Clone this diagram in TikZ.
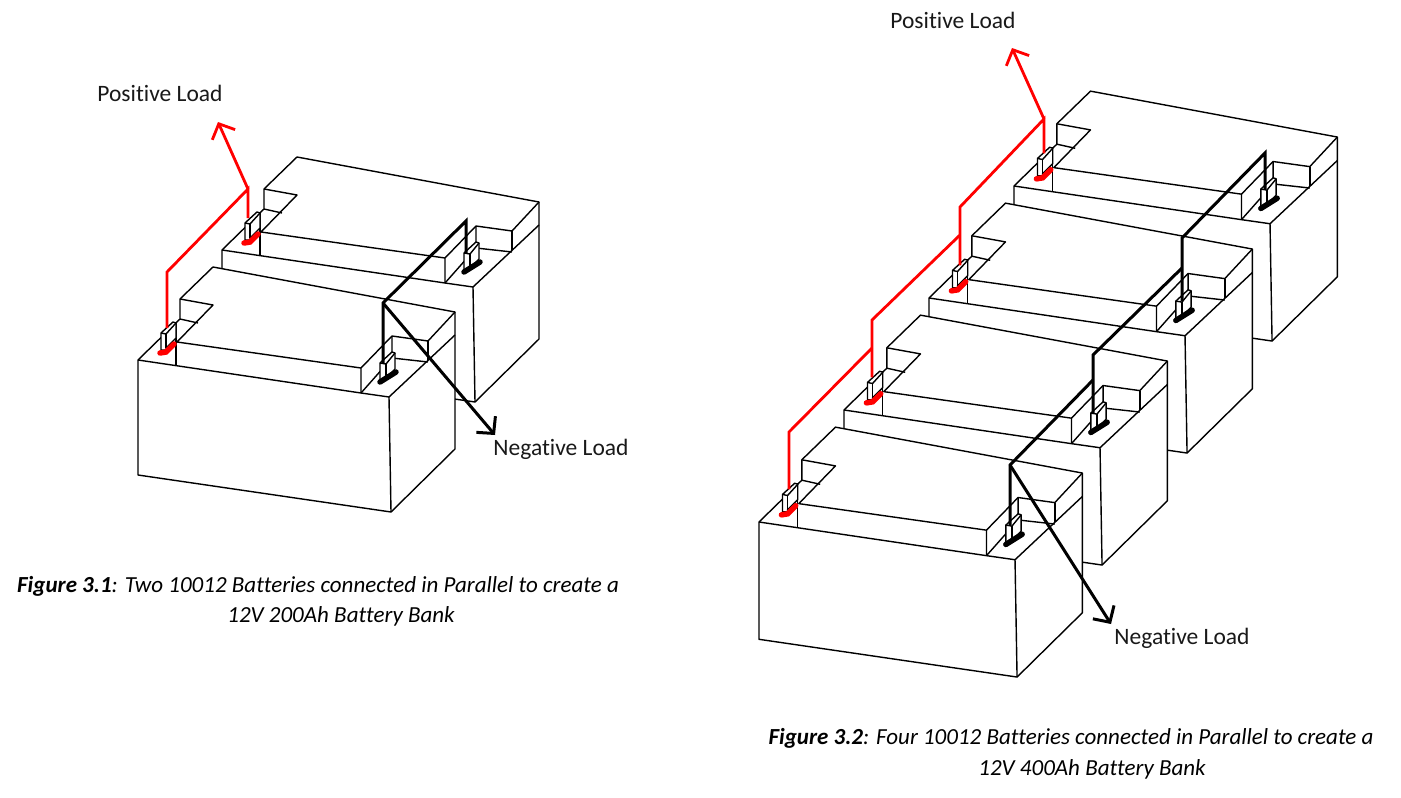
\documentclass[tikz,border=0pt]{standalone}
\usepackage{fontspec}
\setmainfont{Carlito}[Ligatures=NoCommon]
\usetikzlibrary{arrows.meta}
\tikzset{
  edge/.style={draw=black,line width=1.4pt,line join=round},
  wirered/.style={draw=red,line width=2.8pt,line join=miter},
  wireblack/.style={draw=black,line width=3pt,line join=miter},
  loadred/.style={wirered,-{Straight Barb[length=12pt,width=25pt]}},
  loadblack/.style={wireblack,-{Straight Barb[length=12pt,width=25pt]}},
  footred/.style={draw=red,line width=5.5pt,line cap=round},
  footblack/.style={draw=black,line width=5.5pt,line cap=round},
  label/.style={font=\fontsize{23.5}{26}\selectfont,text=black!90,inner sep=0pt,anchor=center},
  caption/.style={font=\fontsize{23}{26}\selectfont\itshape,text=black,inner sep=0pt,anchor=center}
}
\newcommand{\batt}[4]{%
\begin{scope}[shift={(#2,#3)},scale=#4,name prefix=#1-]
  \fill[white] (0,0) -- (0,115) -- (253,152) -- (317,89) -- (317,-48) -- (75,-93) -- (42,-61) -- (42,-41) -- cycle;
  \draw[edge] (0,0) -- (0,115) -- (253,152) -- (317,89) -- (317,-48) -- (75,-93) -- (42,-61) -- (42,-41) -- cycle;
  \draw[edge] (0,0) -- (223,33) -- (251,37) -- (253,152);
  \draw[edge] (251,37) -- (317,-25);
  \draw[edge] (42,-61) -- (75,-55) -- (39,-18) -- (223,8) -- (223,33);
  \draw[edge] (42,-41) -- (60,-37);
  \draw[edge] (223,8) -- (254,-24) -- (290,-19) -- (317,-48);
  \draw[edge] (290,-19) -- (290,0);
  \draw[edge] (254,-24) -- (254,-2) -- (290,2);
  \draw[edge] (223,33) -- (254,-2);
  \draw[edge] (38,-38) -- (38,6);
  % positive terminal
  \filldraw[edge,fill=white] (23,-10) -- (23,-27) -- (35,-38) -- (38,-37) -- (38,-22) -- (28,-12) -- (28,-10) -- cycle;
  \draw[edge] (23,-27) -- (28,-26) -- (38,-37);
  \draw[edge] (28,-26) -- (28,-12);
  \draw[footred] (22,-7) -- (28,-8) -- (36,-16);
  % negative terminal
  \filldraw[edge,fill=white] (242,20) -- (242,3) -- (254,-8) -- (257,-7) -- (257,9) -- (248,18) -- (248,20) -- cycle;
  \draw[edge] (242,3) -- (248,4) -- (257,-7);
  \draw[edge] (248,4) -- (248,18);
  \draw[footblack] (242,22) -- (258,12);
  \coordinate (p) at (29,-32);
  \coordinate (n) at (245,3);
\end{scope}}
\begin{document}
\begin{tikzpicture}[x=1pt,y=-1pt]
\useasboundingbox (0,0) rectangle (1401,798);
\fill[white] (0,0) rectangle (1401,798);

% Figure 3.1
\batt{a2}{222}{250}{1}
\batt{a1}{138}{360}{1}
\coordinate (aRj) at (248,189);
\coordinate (aRk) at (167,272);
\coordinate (aRtip) at (218,122);
\coordinate (aBj) at (466,221);
\coordinate (aBk) at (383,303);
\coordinate (aBtip) at (495,435);
\draw[wirered] (aRj |- a2-p) -- (aRj) -- (aRk) -- (aRk |- a1-p);
\draw[loadred] (aRj) -- (aRtip);
\draw[wireblack] (aBj |- a2-n) -- (aBj) -- (aBk) -- (aBk |- a1-n);
\draw[loadblack] (aBk) -- (aBtip);

% Figure 3.2
\batt{b4}{1014}{186}{1.02}
\batt{b3}{929}{298}{1.02}
\batt{b2}{844}{410}{1.02}
\batt{b1}{759}{522}{1.02}
\coordinate (bRj) at (1044,119);
\coordinate (bRa) at (960,207);
\coordinate (bRb) at (960,235);
\coordinate (bRc) at (872,320);
\coordinate (bRd) at (872,348);
\coordinate (bRe) at (789,432);
\coordinate (bRtip) at (1012,48);
\coordinate (bBj) at (1265,153);
\coordinate (bBa) at (1182,238);
\coordinate (bBb) at (1182,268);
\coordinate (bBc) at (1093,355);
\coordinate (bBd) at (1093,380);
\coordinate (bBe) at (1010,465);
\coordinate (bBtip) at (1111,624);
\draw[wirered] (bRj |- b4-p) -- (bRj) -- (bRa) -- (bRa |- b3-p);
\draw[wirered] (bRb) -- (bRc) -- (bRc |- b2-p);
\draw[wirered] (bRd) -- (bRe) -- (bRe |- b1-p);
\draw[loadred] (bRj) -- (bRtip);
\draw[wireblack] (bBj |- b4-n) -- (bBj) -- (bBa) -- (bBa |- b3-n);
\draw[wireblack] (bBb) -- (bBc) -- (bBc |- b2-n);
\draw[wireblack] (bBd) -- (bBe) -- (bBe |- b1-n);
\draw[loadblack] (bBe) -- (bBtip);

% Labels
\node[label] (pl1) at (160,93) {Positive Load};
\node[label] (nl1) at (561,449) {Negative Load};
\node[label] (pl2) at (953,20) {Positive Load};
\node[label] (nl2) at (1182,638) {Negative Load};
\node[caption] (c1a) at (318,586) {\textbf{Figure 3.1}: Two 10012 Batteries connected in Parallel to create a};
\node[caption] (c1b) at (341,616) {12V 200Ah Battery Bank};
\node[caption] (c2a) at (1071,738) {\textbf{Figure 3.2}: Four 10012 Batteries connected in Parallel to create a};
\node[caption] (c2b) at (1092,769) {12V 400Ah Battery Bank};
\end{tikzpicture}
\end{document}
